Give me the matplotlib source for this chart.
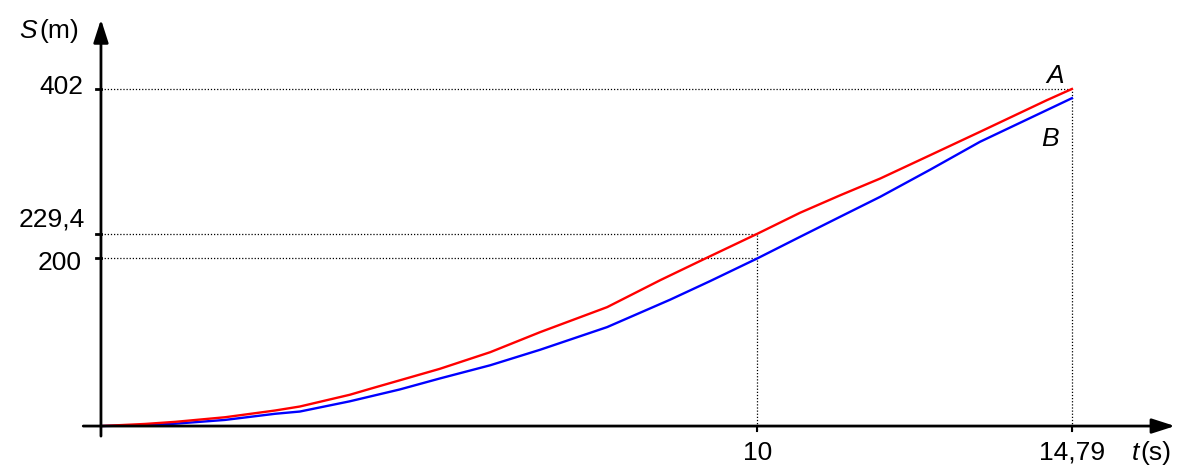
import matplotlib.pyplot as plt

plt.rcParams['font.family'] = ['Liberation Sans', 'DejaVu Sans']

# values
t_a = [0, 0.67, 1.13, 1.89, 2.65, 3.03, 3.79, 4.10, 5.16, 5.93, 6.69, 7.71, 8.52,
       9.20, 10.0, 10.65, 11.26, 11.87, 12.63, 13.39, 14.41, 14.79]
s_a = [0, 2.5, 5.0, 10.5, 18.5, 23.3, 37.3, 44.4, 68.2, 88.1, 112.0, 141.8, 174.0,
       199.6, 229.4, 254.4, 275.2, 295.2, 323.0, 350.9, 388.7, 402.0]
t_b = [0, 0.67, 1.13, 1.89, 2.65, 3.03, 3.79, 4.55, 5.16, 5.93, 6.69, 7.71, 8.67,
       9.28, 10.0, 10.65, 11.26, 11.87, 12.63, 13.39, 14.79]
s_b = [0, 1.0, 2.8, 7.3, 14.6, 17.3, 29.5, 43.6, 56.7, 72.5, 91.0, 118.0, 150.7,
       172.9, 200.0, 225.7, 249.6, 273.4, 305.7, 339.0, 391.0]
y_marks = [402, 229.4, 200]
y_labels = ['402', '229,4', '200']
x_marks = [10, 14.79]
x_labels = ['10', '14,79']

f = 19
fig = plt.figure(figsize=(11.91, 4.73), dpi=100)
ax = fig.add_axes([0, 0, 1, 1])
ax.set_xlim(-1.538, 16.604)
ax.set_ylim(-56.0, 508.1)
ax.axis('off')

# axes with arrows
arr = dict(arrowstyle='-|>,head_length=1.4,head_width=0.45', color='black', lw=2,
           shrinkA=0, shrinkB=0)
ax.annotate('', xy=(16.36, 0), xytext=(-0.27, 0), arrowprops=arr)
ax.annotate('', xy=(0, 485), xytext=(0, -12), arrowprops=arr)

# guide lines
dot = dict(color='black', lw=0.9, linestyle=(0, (1, 1.5)))
ax.plot([0, 14.79], [402, 402], **dot)
ax.plot([0, 10], [229.4, 229.4], **dot)
ax.plot([0, 10], [200, 200], **dot)
ax.plot([10, 10], [-5, 229.4], **dot)
ax.plot([14.79, 14.79], [-5, 402], **dot)

# ticks
for y in y_marks:
    ax.plot([-0.07, 0], [y, y], color='black', lw=2)
for x in x_marks:
    ax.plot([x, x], [0, -6], color='black', lw=1.5)

# curves
ax.plot(t_b, s_b, color='#0000ff', lw=1.7)
ax.plot(t_a, s_a, color='#ff0000', lw=1.7)

# labels
ax.text(-0.27, 404, y_labels[0], fontsize=f, ha='right', va='center')
ax.text(-0.24, 246, y_labels[1], fontsize=f, ha='right', va='center')
ax.text(-0.29, 194, y_labels[2], fontsize=f, ha='right', va='center')
for x, lab in zip(x_marks, x_labels):
    ax.text(x, -31.6, lab, fontsize=f, ha='center', va='center')
ax.text(-0.975, 471, 'S', fontsize=f, style='italic', ha='right', va='center')
ax.text(-0.944, 471, '(m)', fontsize=f, ha='left', va='center')
ax.text(15.81, -31.6, 't', fontsize=f, style='italic', ha='right', va='center')
ax.text(15.84, -31.6, '(s)', fontsize=f, ha='left', va='center')
ax.text(14.53, 417, 'A', fontsize=f, style='italic', ha='center', va='center')
ax.text(14.46, 342, 'B', fontsize=f, style='italic', ha='center', va='center')

fig.savefig('out.png', dpi=100)
